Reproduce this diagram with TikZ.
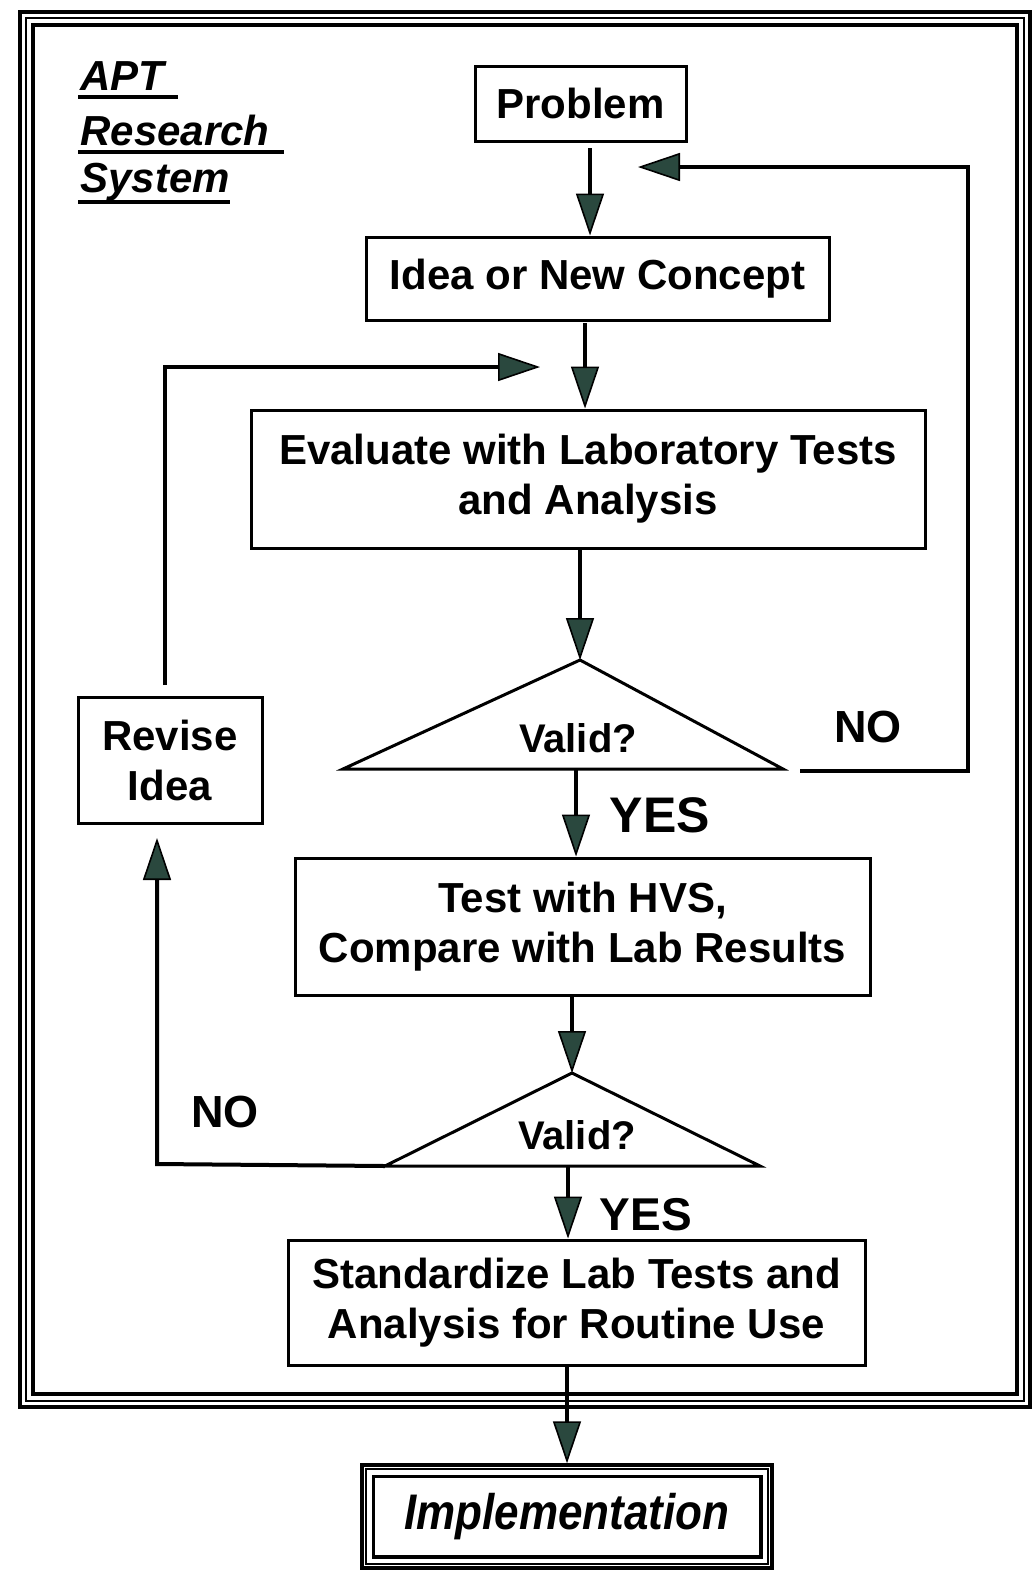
\documentclass[tikz,border=0pt]{standalone}
\usepackage{fontspec}
\setmainfont{Liberation Sans}
\usetikzlibrary{arrows.meta}
\definecolor{arrowc}{RGB}{42,72,62}
\begin{document}
\begin{tikzpicture}[x=0.5pt,y=-0.5pt,
  box/.style={draw, line width=1.5pt, inner sep=0pt, align=center, font=\fontsize{21}{25}\selectfont\bfseries},
  lbl/.style={inner sep=0pt, font=\fontsize{22.5}{26}\selectfont\bfseries},
  arr/.style={line width=2pt, -{Triangle[length=21pt,width=14pt,fill=arrowc,line width=0.8pt]}},
  ln/.style={line width=2pt},
  tri/.style={line width=1.5pt, line join=miter},
  ttl/.style={inner sep=0pt, anchor=base west, font=\fontsize{21}{25}\selectfont\bfseries\itshape}]
\useasboundingbox (0,0) rectangle (1036,1570);
% outer frame
\draw[line width=1.75pt] (20,12) rectangle (1030,1407);
\draw[line width=1pt] (26,18) rectangle (1024,1401);
\draw[line width=1.75pt] (33,25) rectangle (1017,1394);
% title
\node[ttl] (apt) at (80,90) {APT};
\node[ttl] (res) at (80,145) {Research};
\node[ttl] (sys) at (80,192) {System};
\draw[ln] (78,97) -- (178,97);
\draw[ln] (78,152) -- (284,152);
\draw[ln] (78,202) -- (230,202);
% boxes
\node[box, minimum width=105.5pt, minimum height=37.5pt] (prob) at (580.5,103.5) {Problem};
\node[box, minimum width=231.5pt, minimum height=41.5pt] (idea) at (597.5,278.5) {Idea or New Concept};
\node[box, minimum width=337pt, minimum height=69pt] (eval) at (588,479) {Evaluate with Laboratory Tests\\and Analysis};
\node[box, minimum width=287.5pt, minimum height=68.5pt] (test) at (582.5,926.5) {Test with HVS,\\Compare with Lab Results};
\node[box, minimum width=288.5pt, minimum height=62.5pt] (std) at (576.5,1302.5) {Standardize Lab Tests and\\Analysis for Routine Use};
\node[box, minimum width=92pt, minimum height=63pt] (rev) at (170,760) {Revise\\Idea};
% implementation
\node[box, line width=1.75pt, minimum width=205pt, minimum height=51.5pt, font=\fontsize{25}{28}\selectfont\bfseries\itshape] (impl) at (567,1516.5) {\scalebox{0.88}[1]{Implementation}};
\draw[line width=1pt] ([shift={(6,6)}]impl.north west) rectangle ([shift={(-6,-6)}]impl.south east);
\draw[line width=1.75pt] ([shift={(13,13)}]impl.north west) rectangle ([shift={(-13,-13)}]impl.south east);
% triangles
\coordinate (t1a) at (580,660);
\coordinate (t1l) at (343,769);
\coordinate (t1r) at (783,769);
\draw[tri] (t1a) -- (t1l) -- (t1r) -- cycle;
\node[inner sep=0pt, font=\fontsize{20}{24}\selectfont\bfseries] (v1) at (578,738) {Valid?};
\coordinate (t2a) at (572,1073);
\coordinate (t2l) at (385,1166);
\coordinate (t2r) at (760,1166);
\draw[tri] (t2a) -- (t2l) -- (t2r) -- cycle;
\node[inner sep=0pt, font=\fontsize{20}{24}\selectfont\bfseries] (v2) at (577,1135) {Valid?};
% labels
\node[lbl] (no1) at (868,727) {NO};
\node[lbl, font=\fontsize{25}{28}\selectfont\bfseries] (yes1) at (660,815) {YES};
\node[lbl] (no2) at (225,1112) {NO};
\node[lbl, font=\fontsize{23}{26}\selectfont\bfseries] (yes2) at (646,1215) {YES};
% main arrows
\draw[arr] (590,148) -- (590,237 |- idea.north);
\draw[arr] (585,323) -- (585,410 |- eval.north);
\draw[arr] (580,549) -- (t1a);
\draw[arr] (576,769) -- (576,858 |- test.north);
\draw[arr] (572,997) -- (t2a);
\draw[arr] (568,1166) -- (568,1240 |- std.north);
\draw[arr] (567,1367) -- (567,1465 |- impl.north);
% loops
\coordinate (n1s) at (800,771);
\coordinate (n1c) at (968,167);
\coordinate (n1e) at (638,167);
\draw[arr, line join=miter] (n1s) -| (n1c) -- (n1e);
\coordinate (r1s) at (165,685);
\coordinate (r1c) at (165,367);
\coordinate (r1e) at (540,367);
\draw[arr, line join=miter] (r1s) -- (r1c) -- (r1e);
\coordinate (n2c) at (157,1164);
\coordinate (n2e) at (157,838);
\draw[arr, line join=miter] (t2l) -- (n2c) -- (n2e);
\end{tikzpicture}
\end{document}
